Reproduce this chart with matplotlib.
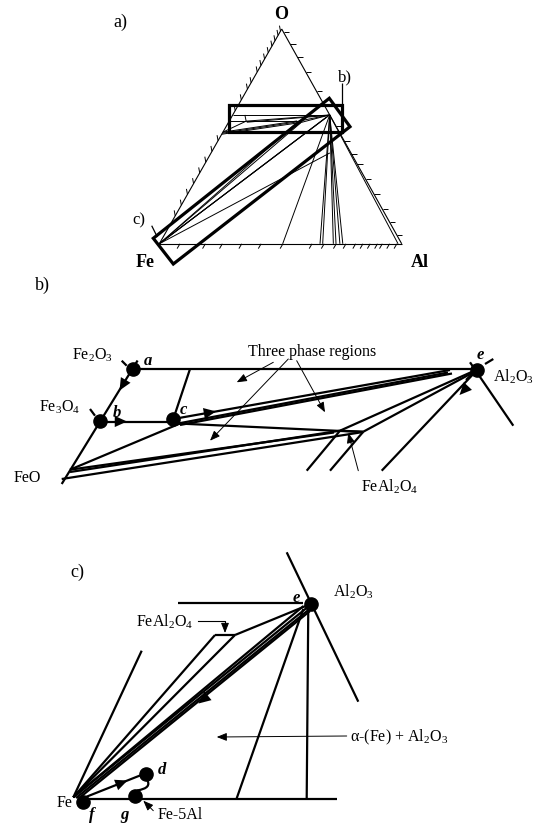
import matplotlib
matplotlib.use('Agg')
import matplotlib.pyplot as plt
from matplotlib.path import Path
from matplotlib.patches import PathPatch, Polygon, Rectangle

plt.rcParams['font.family'] = ['Liberation Serif', 'DejaVu Serif']
plt.rcParams['mathtext.fontset'] = 'custom'
plt.rcParams['mathtext.rm'] = 'Liberation Serif'
plt.rcParams['mathtext.it'] = 'Liberation Serif:italic'

# ---- a) ternary Fe-Al-O, corners in picture units, points as (x_Al, x_O)
corner_fe = (159.3, 244.8)
corner_al = (401.7, 244.8)
corner_o = (281.7, 30.0)

tie_lines = [
    ((0.0, 0.6), (0.4, 0.6)),        # Fe2O3 - Al2O3
    ((0.05, 0.6), (0.07, 0.571)),
    ((0.0, 0.571), (0.07, 0.571)),   # Fe3O4 - c
    ((0.07, 0.571), (0.4, 0.6)),
    ((0.075, 0.566), (0.395, 0.598)),
    ((0.07, 0.571), (0.286, 0.571)),
    ((0.0, 0.52), (0.07, 0.571)),
    ((0.0, 0.52), (0.28, 0.572)),
    ((0.0, 0.515), (0.285, 0.568)),
    ((0.0, 0.51), (0.30, 0.565)),
    ((0.286, 0.571), (0.4, 0.6)),
    ((0.30, 0.565), (0.4, 0.6)),
    ((0.0, 0.0), (0.286, 0.571)),
    ((0.0, 0.0), (0.30, 0.565)),
    ((0.0, 0.0), (0.4, 0.6)),
    ((0.0, 0.0), (0.396, 0.595)),
    ((0.0, 0.0), (0.392, 0.59)),
    ((0.0, 0.0), (0.49, 0.423)),
]
al2o3_base_xal = [0.509, 0.663, 0.674, 0.718, 0.729, 0.745, 0.757, 0.985]
left_ticks_xo = [0.13, 0.18, 0.23, 0.28, 0.33, 0.38, 0.43, 0.48, 0.62, 0.67,
                 0.72, 0.75, 0.80, 0.83, 0.86, 0.89, 0.92, 0.945, 0.97, 0.99]
right_ticks_t = [0.015, 0.07, 0.13, 0.20, 0.29, 0.45, 0.52, 0.58, 0.63,
                 0.70, 0.77, 0.84, 0.90, 0.96]
base_ticks_xal = [0.085, 0.19, 0.26, 0.34, 0.42, 0.51, 0.63, 0.68, 0.73,
                  0.77, 0.81, 0.84, 0.87, 0.90, 0.92, 0.95, 0.98]
box_b = (229.3, 106.0, 113.0, 26.7)
box_c = [(153.3, 239.3), (329.3, 99.3), (350.0, 127.7), (173.3, 265.0)]

# ---- b) enlarged oxide corner
b_lines = [
    ((137.6, 361.5), (61.7, 485.0)),
    ((132.7, 370.0), (476.7, 370.0)),
    ((100.3, 422.5), (173.3, 422.5)),
    ((173.3, 420.0), (190.0, 370.0)),
    ((173.3, 420.0), (450.0, 371.0)),
    ((178.0, 424.5), (448.0, 373.5)),
    ((180.0, 426.0), (452.0, 374.5)),
    ((178.0, 424.5), (363.3, 433.0)),
    ((70.0, 470.7), (180.0, 424.5)),
    ((70.0, 470.7), (334.0, 433.5)),
    ((70.0, 473.0), (340.0, 431.7)),
    ((61.7, 480.0), (363.3, 433.0)),
    ((340.0, 431.7), (363.3, 432.7)),
    ((340.0, 431.7), (476.7, 370.7)),
    ((363.3, 432.7), (476.7, 371.5)),
    ((340.0, 431.7), (306.7, 471.7)),
    ((363.3, 432.7), (330.0, 471.7)),
    ((381.7, 471.7), (473.3, 375.0)),
    ((466.0, 381.0), (474.0, 373.0)),
    ((470.0, 363.3), (513.3, 426.7)),
    ((485.0, 365.0), (493.3, 360.0)),
    ((121.7, 361.7), (126.7, 366.7)),
    ((90.0, 410.0), (95.0, 416.7)),
]
b_dots = [(132.7, 369.5), (100.3, 421.5), (173.3, 420.0), (476.7, 370.7)]
b_dot_names = ['a', 'b', 'c', 'e']
b_name_pos = [(148.3, 361.0), (116.7, 413.0), (183.3, 410.0), (480.0, 355.0)]
b_heads = [((124.5, 383.0), (119.5, 391.5)),
           ((116.0, 422.5), (127.0, 422.5)),
           ((204.0, 414.5), (216.0, 412.4)),
           ((467.0, 388.0), (459.5, 396.0))]
b_pointers = [((288.3, 360.0), (210.0, 441.7)),
              ((273.3, 363.3), (236.7, 383.3)),
              ((296.7, 361.7), (325.0, 413.3)),
              ((358.3, 471.7), (348.3, 434.0))]

# ---- c) enlarged metal corner
c_lines = [
    ((73.3, 798.3), (141.7, 651.7)),
    ((73.3, 798.3), (215.0, 636.0)),
    ((215.0, 636.0), (235.0, 636.0)),
    ((235.0, 636.0), (310.7, 605.0)),
    ((73.3, 798.3), (235.0, 636.0)),
    ((73.3, 798.3), (303.5, 607.0)),
    ((73.3, 798.3), (306.5, 609.0)),
    ((76.0, 799.0), (309.0, 610.5)),
    ((78.0, 800.0), (310.0, 612.0)),
    ((308.3, 606.7), (306.7, 799.3)),
    ((303.3, 610.0), (236.7, 799.3)),
    ((178.3, 604.3), (303.3, 604.3)),
    ((286.7, 553.3), (358.3, 702.7)),
    ((83.3, 799.5), (336.7, 799.5)),
    ((83.3, 799.0), (140.0, 776.5)),
]
c_dots = [(310.7, 605.0), (83.3, 802.7), (135.0, 796.7), (146.0, 775.0)]
c_name_pos = [(296.7, 598.3), (91.7, 815.0), (125.0, 815.0), (161.7, 770.0)]
c_dot_names = ['e', 'f', 'g', 'd']
c_heads = [((209.0, 696.0), (198.5, 704.5)),
           ((116.0, 786.0), (127.5, 781.5))]
c_pointers = [((346.7, 737.0), (216.7, 738.0)),
              ((153.3, 811.7), (143.3, 801.7))]
g_to_d = [(137.0, 791.5), (153.0, 789.0), (146.5, 780.0)]
bracket = [(198.3, 621.7), (225.0, 621.7), (225.0, 634.0)]


def tern(xal, xo):
    x = corner_fe[0] + xal * (corner_al[0] - corner_fe[0]) + xo * (corner_o[0] - corner_fe[0])
    y = corner_fe[1] + xal * (corner_al[1] - corner_fe[1]) + xo * (corner_o[1] - corner_fe[1])
    return x, y


def seg(ax, p, q, lw):
    ax.plot([p[0], q[0]], [p[1], q[1]], color='k', lw=lw, solid_capstyle='butt')


def head(ax, p, q, size=16):
    ax.annotate('', xy=q, xytext=p,
                arrowprops=dict(arrowstyle='-|>,head_length=0.55,head_width=0.25',
                                mutation_scale=size, color='k', lw=0.01,
                                shrinkA=0, shrinkB=0))


def pointer(ax, p, q):
    ax.annotate('', xy=q, xytext=p,
                arrowprops=dict(arrowstyle='-|>,head_length=0.5,head_width=0.2',
                                mutation_scale=12, color='k', lw=0.7,
                                shrinkA=0, shrinkB=0))


fig = plt.figure(figsize=(5.37, 8.29), dpi=100)
ax = fig.add_axes([0, 0, 1, 1])
ax.set_xlim(0, 537)
ax.set_ylim(829, 0)
ax.axis('off')

# a) ---------------------------------------------------------------
for p, q in [(corner_fe, corner_al), (corner_fe, corner_o), (corner_o, corner_al)]:
    seg(ax, p, q, 0.8)
for p, q in tie_lines:
    seg(ax, tern(*p), tern(*q), 0.7)
for xal in al2o3_base_xal:
    seg(ax, tern(0.4, 0.6), tern(xal, 0.0), 0.7)
for xo in left_ticks_xo:
    x, y = tern(0.0, xo)
    seg(ax, (x, y), (x - 1.0, y - 5.5), 0.7)
for t in right_ticks_t:
    x, y = tern(t, 1.0 - t)
    seg(ax, (x, y), (x + 5.5, y), 0.7)
for xal in base_ticks_xal:
    x, y = tern(xal, 0.0)
    seg(ax, (x, y), (x - 2.8, y + 4.8), 0.7)

ax.add_patch(Rectangle(box_b[:2], box_b[2], box_b[3], fill=False, lw=2.3, ec='k'))
ax.add_patch(Polygon(box_c, closed=True, fill=False, lw=2.3, ec='k'))
seg(ax, (341.7, 84.0), (341.7, 106.0), 0.9)
seg(ax, (151.7, 226.7), (157.3, 238.0), 0.9)

ax.text(120, 22, 'a)', fontsize=13, ha='center', va='center')
ax.text(281, 14, 'O', fontsize=13, fontweight='bold', ha='center', va='center')
ax.text(145, 262, 'Fe', fontsize=13, fontweight='bold', ha='center', va='center')
ax.text(420, 262, 'Al', fontsize=13, fontweight='bold', ha='center', va='center')
ax.text(345, 77, 'b)', fontsize=12, ha='center', va='center')
ax.text(139, 220, 'c)', fontsize=12, ha='center', va='center')

# b) ---------------------------------------------------------------
for p, q in b_lines:
    seg(ax, p, q, 1.6)
for p, q in b_heads:
    head(ax, p, q)
for p, q in b_pointers:
    pointer(ax, p, q)
for (x, y), name, (tx, ty) in zip(b_dots, b_dot_names, b_name_pos):
    ax.plot(x, y, 'o', color='k', ms=9.5)
    ax.text(tx, ty, name, fontsize=12, fontweight='bold', fontstyle='italic',
            ha='center', va='center')

ax.text(42, 285, 'b)', fontsize=13, ha='center', va='center')
ax.text(92, 355, r'Fe$_2$O$_3$', fontsize=11.5, ha='center', va='center')
ax.text(60, 407, r'Fe$_3$O$_4$', fontsize=11.5, ha='center', va='center')
ax.text(27, 478, 'FeO', fontsize=11.5, ha='center', va='center')
ax.text(312, 352, 'Three phase regions', fontsize=11.5, ha='center', va='center')
ax.text(493, 377, r'Al$_2$O$_3$', fontsize=11.5, ha='left', va='center')
ax.text(390, 487, r'FeAl$_2$O$_4$', fontsize=11.5, ha='center', va='center')

# c) ---------------------------------------------------------------
for p, q in c_lines:
    seg(ax, p, q, 1.6)
for p, q in c_heads:
    head(ax, p, q)
for p, q in c_pointers:
    pointer(ax, p, q)
ax.plot([bracket[0][0], bracket[1][0], bracket[2][0]],
        [bracket[0][1], bracket[1][1], bracket[2][1] - 4], color='k', lw=0.8)
pointer(ax, (bracket[2][0], bracket[2][1] - 5), bracket[2])
ax.add_patch(PathPatch(Path(g_to_d, [Path.MOVETO, Path.CURVE3, Path.CURVE3]),
                       fill=False, lw=1.6, ec='k'))
for (x, y), name, (tx, ty) in zip(c_dots, c_dot_names, c_name_pos):
    ax.plot(x, y, 'o', color='k', ms=9.5)
    ax.text(tx, ty, name, fontsize=12, fontweight='bold', fontstyle='italic',
            ha='center', va='center')

ax.text(77, 572, 'c)', fontsize=13, ha='center', va='center')
ax.text(333, 592, r'Al$_2$O$_3$', fontsize=11.5, ha='left', va='center')
ax.text(165, 622, r'FeAl$_2$O$_4$', fontsize=11.5, ha='center', va='center')
ax.text(350, 737, r'α-(Fe) + Al$_2$O$_3$', fontsize=11.5, ha='left', va='center')
ax.text(65, 803, 'Fe', fontsize=11.5, ha='center', va='center')
ax.text(158, 815, 'Fe-5Al', fontsize=11.5, ha='left', va='center')

fig.savefig('out.png', dpi=100)
